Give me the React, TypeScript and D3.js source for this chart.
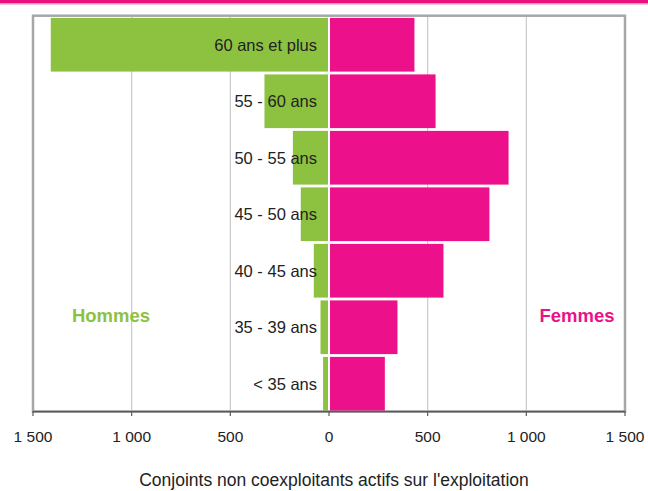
import React from "react";
import * as d3 from "d3";

const categories = ["60 ans et plus", "55 - 60 ans", "50 - 55 ans", "45 - 50 ans", "40 - 45 ans", "35 - 39 ans", "< 35 ans"];
const hommes = [1410, 327, 183, 143, 77, 43, 30];
const femmes = [433, 540, 910, 813, 580, 347, 283];
const ticks = [-1500, -1000, -500, 0, 500, 1000, 1500];
const title = "Conjoints non coexploitants actifs sur l'exploitation";

const W = 648, H = 491;
const GREEN = "#8dc241";
const PINK = "#ec118a";
const FONT = "'Liberation Sans', Arial, sans-serif";

export default function App() {
  const x = d3.scaleLinear().domain([-1500, 1500]).range([33, 625]);
  const y = d3.scaleBand<string>().domain(categories).range([16.5, 412]).paddingInner(0).paddingOuter(0);
  const fmt = (v: number) => {
    const a = Math.abs(v);
    return a >= 1000 ? `${Math.floor(a / 1000)} ${String(a % 1000).padStart(3, "0")}` : String(a);
  };
  const vgap = 2.8;
  const hgap = 2;
  return (
    <svg width={W} height={H} style={{ position: "absolute", left: 0, top: 0, display: "block" }} fontFamily={FONT}>
      <rect x={0} y={0} width={W} height={H} fill="#fff" />
      <rect x={0} y={0} width={W} height={3} fill="#e8117f" />
      <rect x={0} y={3} width={W} height={1.5} fill="#f590c4" />
      {/* frame */}
      <rect x={33} y={15.7} width={592} height={396} fill="none" stroke="#a7a7ab" strokeWidth={2.5} />
      {/* gridlines */}
      {ticks.filter((t) => t !== 0 && Math.abs(t) !== 1500).map((t) => (
        <line key={t} x1={x(t)} x2={x(t)} y1={17} y2={411} stroke="#cacaca" strokeWidth={1.2} />
      ))}
      {/* bars */}
      {categories.map((c, i) => {
        const y0 = y(c)! + vgap / 2;
        const h = y.bandwidth() - vgap;
        return (
          <g key={c}>
            <rect x={x(-hommes[i])} y={y0} width={x(0) - x(-hommes[i]) - hgap / 2} height={h} fill={GREEN} />
            <rect x={x(0) + hgap / 2} y={y0} width={x(femmes[i]) - x(0) - hgap / 2} height={h} fill={PINK} />
          </g>
        );
      })}
      {/* labels */}
      {categories.map((c) => (
        <text key={c} x={317} y={y(c)! + y.bandwidth() / 2} dy="0.36em" textAnchor="end" fontSize={16.5} fill="#222">
          {c}
        </text>
      ))}
      {/* axis */}
      <line x1={33} x2={625} y1={411.5} y2={411.5} stroke="#5a5a5a" strokeWidth={1.6} />
      {ticks.map((t) => (
        <g key={t}>
          <line x1={x(t)} x2={x(t)} y1={411} y2={416} stroke="#5a5a5a" strokeWidth={1.2} />
          <text x={x(t)} y={442} textAnchor="middle" fontSize={15.5} fill="#222">
            {fmt(t)}
          </text>
        </g>
      ))}
      <text x={111} y={322} textAnchor="middle" fontSize={18.5} fontWeight="bold" fill={GREEN}>Hommes</text>
      <text x={577} y={322} textAnchor="middle" fontSize={18.5} fontWeight="bold" fill={PINK}>Femmes</text>
      <text x={334} y={486} textAnchor="middle" fontSize={17.5} fill="#222">{title}</text>
    </svg>
  );
}
